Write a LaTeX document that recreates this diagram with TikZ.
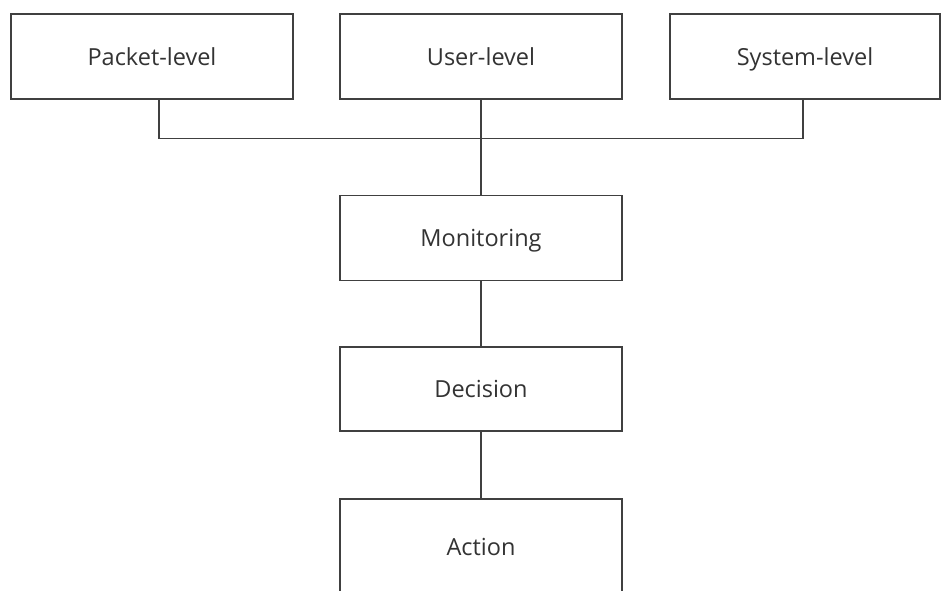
\documentclass[tikz,border=0pt]{standalone}
\usepackage{fontspec}
\setmainfont{Open Sans}
\begin{document}
\begin{tikzpicture}[x=1pt,y=-1pt,
  line/.style={draw=black!75, line width=1.3pt},
  box/.style={line, rectangle, minimum width=282pt, minimum height=85pt,
    inner sep=0pt, text height=17pt, text depth=0pt,
    font=\fontsize{23.5}{28}\selectfont, text=black!80}]
  \useasboundingbox (0,0) rectangle (941,590);
  \clip (0,0) rectangle (941,590);
  % top row of sources
  \node[box] (packet) at (152,56.5) {Packet-level};
  \node[box] (user)   at (481,56.5) {User-level};
  \node[box, minimum width=270pt] (system) at (805,56.5) {System-level};
  % processing chain
  \node[box] (monitor)  at (481,238) {Monitoring};
  \node[box, minimum height=84pt] (decision) at (481,389) {Decision};
  \node[box, minimum height=96pt] (action)   at (481,547) {Action};
  % bus joining the three sources
  \coordinate (pdrop) at ([xshift=7pt]packet.south);
  \coordinate (sdrop) at ([xshift=-2pt]system.south);
  \draw[line] (pdrop) -- ++(0,39) coordinate (pbus) -| (sdrop);
  \draw[line] (user.south) -- (monitor.north);
  \draw[line] (monitor.south) -- (decision.north);
  \draw[line] (decision.south) -- (action.north);
\end{tikzpicture}
\end{document}
